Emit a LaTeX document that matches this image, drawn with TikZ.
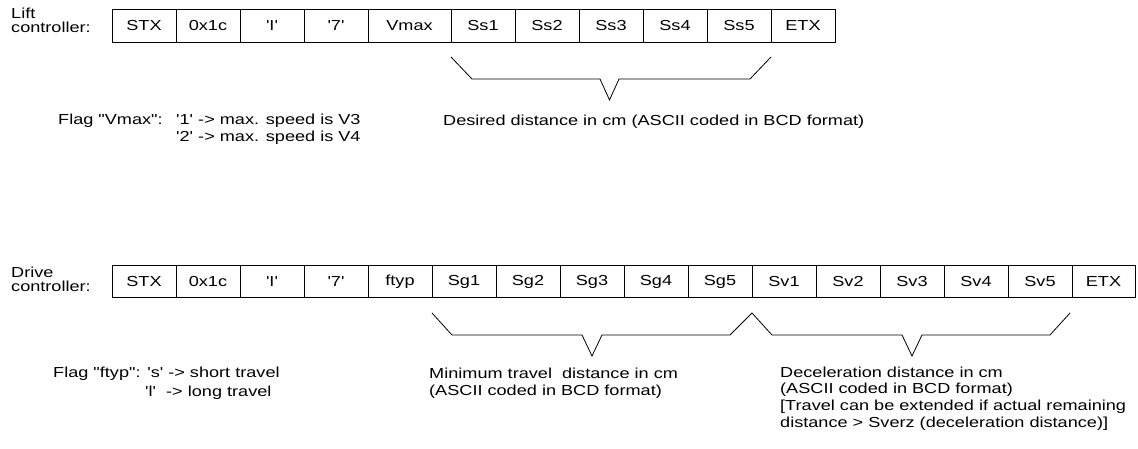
\documentclass[tikz,border=0pt]{standalone}
\usepackage{fontspec}
\newfontfamily\arial{Liberation Sans}[FakeStretch=1.25]
\begin{document}
\begin{tikzpicture}[x=1pt,y=-1pt,
  font=\arial\fontsize{14.5}{17}\selectfont,
  cell/.style={draw=black, line width=0.9pt, rectangle, inner sep=0pt, minimum width=64pt, minimum height=32.5pt, anchor=center},
  txt/.style={anchor=base west, inner sep=0pt},
  brace/.style={draw=black, line width=0.8pt}]
\useasboundingbox (0,0) rectangle (1138,449);
% top row
\node[txt] (l1) at (11,19) {Lift};
\node[txt] (l2) at (11,33) {controller:};
\node[cell] (a1) at (144,26) {STX};
\node[cell] (a2) at (208,26) {0x1c};
\node[cell] (a3) at (272,26) {'I'};
\node[cell] (a4) at (336,26) {'7'};
\node[cell, minimum width=83pt] (a5) at (409.5,26) {Vmax};
\node[cell] (a6) at (483,26) {Ss1};
\node[cell] (a7) at (547,26) {Ss2};
\node[cell] (a8) at (611,26) {Ss3};
\node[cell] (a9) at (675,26) {Ss4};
\node[cell] (a10) at (739,26) {Ss5};
\node[cell] (a11) at (803,26) {ETX};
\draw[brace] (451,57) -- (472,79) -- (600,79) -- (609.5,100) -- (619,79) -- (750,79) -- (771,57);
\node[txt] (d1) at (443,126) {Desired distance in cm (ASCII coded in BCD format)};
\node[txt] (f1) at (58,125) {Flag "Vmax":};
\node[txt] (f2) at (176,125) {'1' -> max. speed is V3};
\node[txt] (f3) at (176,142) {'2' -> max. speed is V4};
% bottom row
\node[txt] (m1) at (11,277) {Drive};
\node[txt] (m2) at (11,291) {controller:};
\node[cell] (b1) at (144,281.5) {STX};
\node[cell] (b2) at (208,281.5) {0x1c};
\node[cell] (b3) at (272,281.5) {'I'};
\node[cell] (b4) at (336,281.5) {'7'};
\node[cell] (b5) at (400,281.5) {ftyp};
\node[cell] (b6) at (464,281.5) {Sg1};
\node[cell] (b7) at (528,281.5) {Sg2};
\node[cell] (b8) at (592,281.5) {Sg3};
\node[cell] (b9) at (656,281.5) {Sg4};
\node[cell] (b10) at (720,281.5) {Sg5};
\node[cell] (b11) at (784,281.5) {Sv1};
\node[cell] (b12) at (848,281.5) {Sv2};
\node[cell] (b13) at (912,281.5) {Sv3};
\node[cell] (b14) at (976,281.5) {Sv4};
\node[cell] (b15) at (1040,281.5) {Sv5};
\node[cell, minimum width=63pt] (b16) at (1103.5,281.5) {ETX};
\draw[brace] (432,313) -- (452,335) -- (582,335) -- (592,356) -- (602,335) -- (730,335) -- (752,313);
\draw[brace] (752,313) -- (772,335) -- (902,335) -- (912,356) -- (922,335) -- (1050,335) -- (1070,313);
\node[txt] (g1) at (53,377) {Flag "ftyp": 's' -> short travel};
\node[txt] (g3) at (145,396) {'l'~ -> long travel};
\node[txt] (h1) at (429,378) {Minimum travel~ distance in cm};
\node[txt] (h2) at (429,395) {(ASCII coded in BCD format)};
\node[txt] (k1) at (780,377) {Deceleration distance in cm};
\node[txt] (k2) at (780,393.5) {(ASCII coded in BCD format)};
\node[txt] (k3) at (780,410) {[Travel can be extended if actual remaining};
\node[txt] (k4) at (780,427) {distance > Sverz (deceleration distance)]};
\end{tikzpicture}
\end{document}
